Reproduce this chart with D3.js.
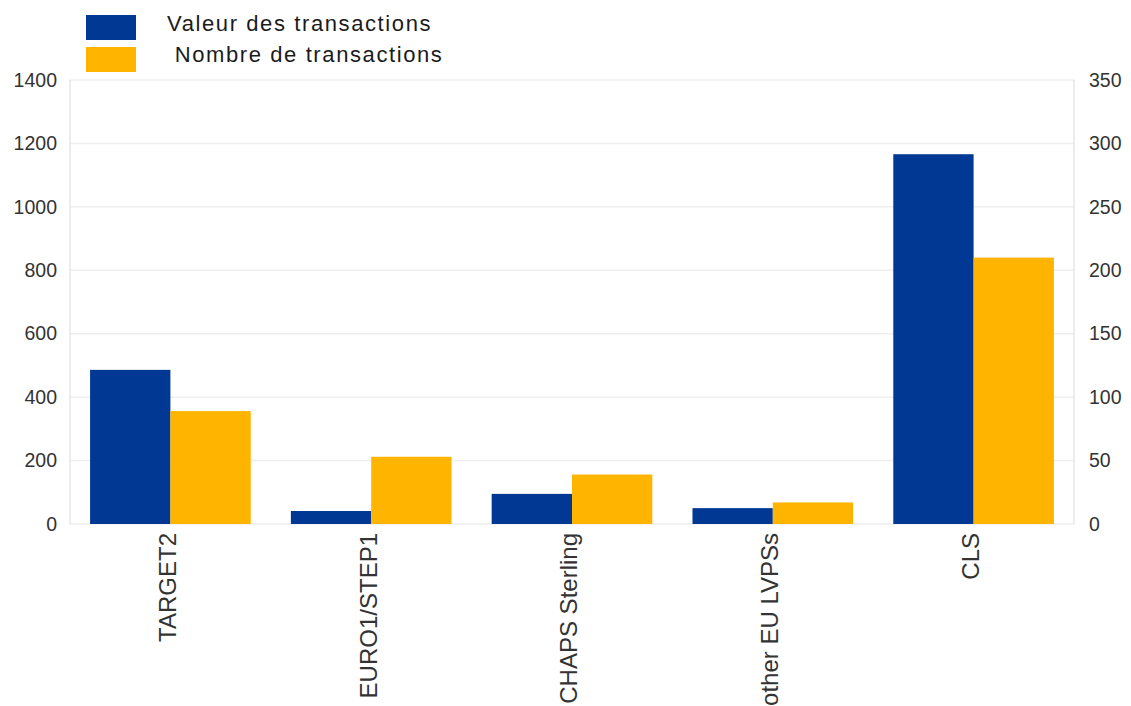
<!DOCTYPE html>
<html>
<head>
<meta charset="utf-8">
<script src="https://cdn.jsdelivr.net/npm/d3@7"></script>
<style>
  body { margin: 0; background: #fff; }
  svg text { font-family: "Liberation Sans", Arial, sans-serif; }
</style>
</head>
<body>
<div id="chart"></div>
<script>
// data
var categories = ["TARGET2", "EURO1/STEP1", "CHAPS Sterling", "other EU LVPSs", "CLS"];
var valeurs = [486, 41, 95, 50, 1166];      // left axis
var nombres = [89, 53, 39, 17, 210];        // right axis
var leftTicks = [0, 200, 400, 600, 800, 1000, 1200, 1400];
var rightTicks = [0, 50, 100, 150, 200, 250, 300, 350];
var seriesNames = ["Valeur des transactions", " Nombre de transactions"];

var blue = '#003894';
var orange = '#ffb400';

var W = 1131, H = 706;
var mLeft = 70, mRight = 1074, mTop = 80, mBottom = 524;

var svg = d3.select("#chart").append("svg")
    .attr("width", W).attr("height", H);

var x = d3.scaleBand()
    .domain(categories)
    .range([mLeft, mRight])
    .paddingInner(0.2)
    .paddingOuter(0.1);

var inner = d3.scaleBand()
    .domain([0, 1])
    .range([0, x.bandwidth()]);

var yL = d3.scaleLinear().domain([0, 1400]).range([mBottom, mTop]);
var yR = d3.scaleLinear().domain([0, 350]).range([mBottom, mTop]);

// grid
svg.append("g").selectAll("line")
    .data(leftTicks)
    .join("line")
    .attr("x1", mLeft).attr("x2", mRight)
    .attr("y1", d => yL(d)).attr("y2", d => yL(d))
    .attr("stroke", "#efefef").attr("stroke-width", 1.5);

// frame sides
svg.append("line").attr("x1", mLeft).attr("x2", mLeft).attr("y1", mTop).attr("y2", mBottom)
    .attr("stroke", "#e6e6e6").attr("stroke-width", 1.5);
svg.append("line").attr("x1", mRight).attr("x2", mRight).attr("y1", mTop).attr("y2", mBottom)
    .attr("stroke", "#e6e6e6").attr("stroke-width", 1.5);

// bars
var groups = svg.append("g").selectAll("g")
    .data(categories)
    .join("g")
    .attr("transform", d => "translate(" + x(d) + ",0)");

groups.append("rect")
    .attr("x", inner(0))
    .attr("width", inner.bandwidth())
    .attr("y", (d, i) => yL(valeurs[i]))
    .attr("height", (d, i) => mBottom - yL(valeurs[i]))
    .attr("fill", blue);

groups.append("rect")
    .attr("x", inner(1))
    .attr("width", inner.bandwidth())
    .attr("y", (d, i) => yR(nombres[i]))
    .attr("height", (d, i) => mBottom - yR(nombres[i]))
    .attr("fill", orange);

// axes
var axL = svg.append("g")
    .attr("transform", "translate(" + mLeft + ",0)")
    .call(d3.axisLeft(yL).tickValues(leftTicks).tickFormat(d3.format("d")).tickSize(0).tickPadding(13));
var axR = svg.append("g")
    .attr("transform", "translate(" + mRight + ",0)")
    .call(d3.axisRight(yR).tickValues(rightTicks).tickFormat(d3.format("d")).tickSize(0).tickPadding(15));
[axL, axR].forEach(function(a) {
    a.select(".domain").remove();
    a.selectAll("text").attr("font-size", 19.5).attr("fill", "#333")
        .attr("font-family", "Liberation Sans, Arial, sans-serif");
});

var axX = svg.append("g")
    .attr("transform", "translate(0," + mBottom + ")")
    .call(d3.axisBottom(x).tickSize(0));
axX.select(".domain").remove();
axX.selectAll("text")
    .attr("font-size", 24).attr("fill", "#333")
    .attr("font-family", "Liberation Sans, Arial, sans-serif")
    .attr("transform", "rotate(-90)")
    .attr("text-anchor", "end")
    .attr("x", -9).attr("y", -3)
    .attr("dy", "0.35em");

// legend
var legend = svg.append("g");
legend.selectAll("rect")
    .data(seriesNames)
    .join("rect")
    .attr("x", 86).attr("y", (d, i) => 15 + i * 32)
    .attr("width", 50).attr("height", 25)
    .attr("fill", (d, i) => i === 0 ? blue : orange);
legend.selectAll("text")
    .data(seriesNames)
    .join("text")
    .attr("x", 167).attr("y", (d, i) => 25 + i * 31)
    .attr("font-family", "Open Sans, sans-serif")
    .attr("font-size", 22)
    .attr("letter-spacing", 1.6)
    .attr("fill", "#1b1b1b")
    .attr("dominant-baseline", "middle")
    .style("white-space", "pre")
    .text(d => d);
</script>
</body>
</html>
